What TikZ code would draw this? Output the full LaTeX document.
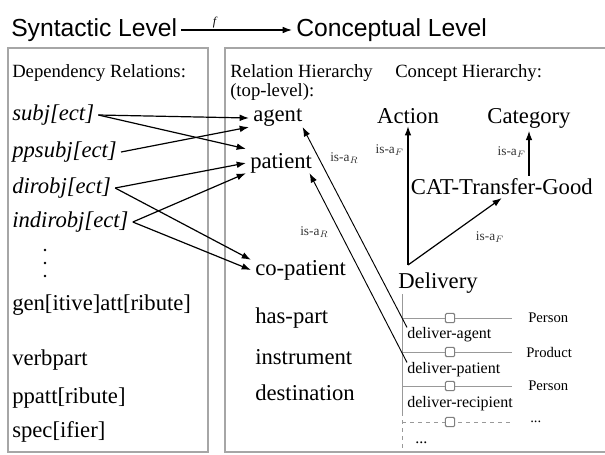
\documentclass[tikz,border=0pt]{standalone}
\usepackage{fontspec}
\setmainfont{Liberation Serif}
\setsansfont{Liberation Sans}
\usetikzlibrary{arrows.meta}

\begin{document}
\begin{tikzpicture}[x=0.75pt,y=-0.75pt,
    title/.style={anchor=west,inner sep=3pt,font=\sffamily\fontsize{18.5}{20}\selectfont},
    head/.style={anchor=west,inner sep=0pt,font=\fontsize{14}{16}\selectfont},
    word/.style={anchor=west,inner sep=0pt,font=\fontsize{17}{20}\selectfont},
    wordit/.style={word,font=\fontsize{17}{20}\selectfont\itshape},
    concept/.style={inner sep=2pt,font=\fontsize{17}{20}\selectfont},
    isa/.style={inner sep=0pt,text=black!80,font=\fontsize{10}{12}\selectfont},
    slotlab/.style={anchor=west,inner sep=0pt,font=\fontsize{12}{14}\selectfont},
    filler/.style={anchor=west,inner sep=0pt,font=\fontsize{11}{13}\selectfont},
    frame/.style={draw=gray!70,line width=1.6pt},
    arr/.style={-{Latex[length=7pt,width=5pt]},line width=0.9pt},
    slot/.style={draw=gray!80,line width=0.7pt},
    knob/.style={draw=gray,fill=white,rounded corners=1pt,minimum size=7pt,inner sep=0pt,line width=0.8pt}]
  \useasboundingbox (0,0) rectangle (605,454);

  % levels
  \node[title] (syn) at (7,30) {Syntactic Level};
  \node[title] (con) at (292,30) {Conceptual Level};
  \draw[arr] (syn) -- (con) node[pos=0.3,above,inner sep=1pt,font=\itshape\small] {f};

  % frames
  \draw[frame] (8,48) rectangle (208,452);
  \draw[frame] (608,48) -- (225,48) -- (225,452) -- (608,452);

  % syntactic side
  \node[head] (deprel) at (12,73) {Dependency Relations:};
  \node[wordit] (subj) at (12,115) {subj[ect]};
  \node[wordit] (ppsubj) at (12,152) {ppsubj[ect]};
  \node[wordit] (dirobj) at (12,188) {dirobj[ect]};
  \node[wordit] (indirobj) at (12,222) {indirobj[ect]};
  \fill (45,250) circle (1pt) (45,263) circle (1pt) (45,276) circle (1pt);
  \node[word] (genatt) at (12,305) {gen[itive]att[ribute]};
  \node[word] (verbpart) at (12,360) {verbpart};
  \node[word] (ppatt) at (12,398) {ppatt[ribute]};
  \node[word] (spec) at (12,432) {spec[ifier]};

  % relation hierarchy
  \node[head] (relhier) at (230,73) {Relation Hierarchy};
  \node[head] (toplevel) at (230,92) {(top-level):};
  \node[word] (agent) at (253,118) {agent};
  \node[word] (patient) at (250,163) {patient};
  \node[word] (copatient) at (255,270) {co-patient};
  \node[word] (haspart) at (255,318) {has-part};
  \node[word] (instrument) at (255,357) {instrument};
  \node[word] (destination) at (255,393) {destination};

  \draw[arr] ([xshift=3pt]subj.east) -- ([xshift=-3pt]agent.west);
  \draw[arr] ([xshift=3pt]subj.east) -- ([xshift=-3pt,yshift=3pt]patient.north west);
  \draw[arr] ([xshift=3pt]ppsubj.east) -- ([xshift=-3pt]agent.south west);
  \draw[arr] ([xshift=3pt]dirobj.east) -- ([xshift=-3pt]patient.west);
  \draw[arr] ([xshift=3pt]dirobj.east) -- ([xshift=-3pt]copatient.north west);
  \draw[arr] ([xshift=3pt]indirobj.east) -- ([xshift=-3pt]patient.south west);
  \draw[arr] ([xshift=3pt]indirobj.east) -- ([xshift=-3pt]copatient.west);

  % concept hierarchy
  \node[head] (conchier) at (395,73) {Concept Hierarchy:};
  \node[concept,anchor=base] (action) at (408,123) {Action};
  \node[concept,anchor=base] (category) at (529,123) {Category};
  \node[concept,anchor=west] (cat) at (408,187) {CAT-Transfer-Good};
  \node[concept] (delivery) at (438,283) {Delivery};
  \coordinate (dlv) at (408,265);

  \draw[arr] (dlv) -- (action.south);
  \draw[arr] (dlv) -- (cat.south);
  \draw[arr] (cat.north -| category.south) -- (category.south);
  \node[isa,anchor=east] (isa1) at (404,150) {is-a$_F$};
  \node[isa,anchor=east] (isa2) at (526,152) {is-a$_F$};
  \node[isa] (isa3) at (490,237) {is-a$_F$};

  % slots of Delivery
  \draw[slot] (402,294) -- (402,412);
  \draw[slot,dashed] (402,412) -- (402,452);
  \draw[slot] (402,318) -- (512,318);
  \draw[slot] (402,352) -- (512,352);
  \draw[slot] (402,386) -- (512,386);
  \draw[slot,dashed] (402,422) -- (512,422);
  \node[knob] (k1) at (450,318) {};
  \node[knob] (k2) at (450,352) {};
  \node[knob] (k3) at (450,386) {};
  \node[knob] (k4) at (450,422) {};
  \node[slotlab] (s1) at (407,335) {deliver-agent};
  \node[slotlab] (s2) at (407,370) {deliver-patient};
  \node[slotlab] (s3) at (407,404) {deliver-recipient};
  \node[slotlab] (s4) at (415,443) {...};
  \node[filler] (f1) at (528,318) {Person};
  \node[filler] (f2) at (526,352) {Product};
  \node[filler] (f3) at (528,386) {Person};
  \node[filler] (f4) at (530,422) {...};

  \draw[arr,line width=0.7pt] (s1.north west) -- (agent.south east);
  \draw[arr,line width=0.7pt] (s2.north west) -- ([xshift=-2pt]patient.south east);
  \node[isa,anchor=west] (isa4) at (330,158) {is-a$_R$};
  \node[isa,anchor=west] (isa5) at (300,232) {is-a$_R$};
\end{tikzpicture}
\end{document}
